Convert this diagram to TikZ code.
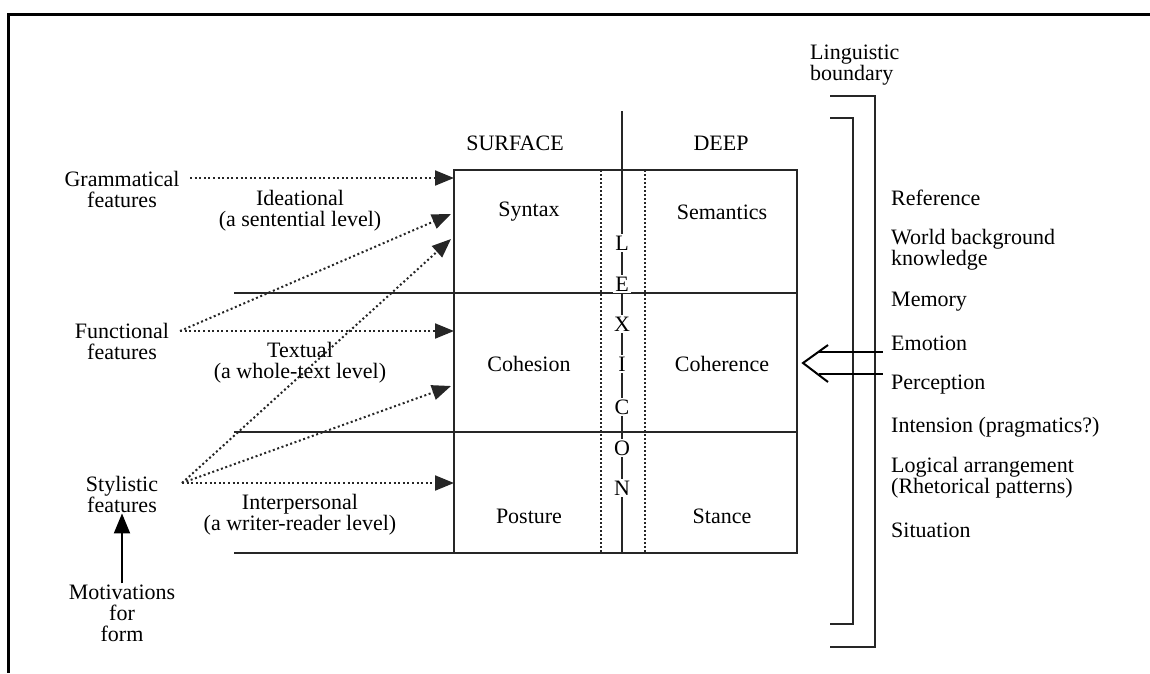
\documentclass[tikz,border=0pt]{standalone}
\usepackage{fontspec}
\setmainfont{Liberation Serif}
\usetikzlibrary{arrows.meta}

\tikzset{
  txt/.style={align=center, inner sep=1pt, font=\fontsize{22}{21}\selectfont},
  side/.style={anchor=west, align=left, inner sep=0pt, font=\fontsize{22}{21}\selectfont},
  letter/.style={fill=white, inner sep=2pt, font=\fontsize{22}{21}\selectfont},
  rule/.style={line width=2.1pt, black!85},
  dotarrow/.style={line width=2pt, black!85, dash pattern=on 2pt off 2.6pt,
    -{Triangle[length=19pt,width=15pt]}},
}

\begin{document}
\begin{tikzpicture}[x=1pt,y=-1pt]
  \useasboundingbox (0,0) rectangle (1150,673);

  % frame
  \draw[line width=3pt] (1150,14) -- (8,14) -- (8,673);

  % main box and level rules
  \coordinate (tl) at (454,170);
  \coordinate (tr) at (797,170);
  \coordinate (bl) at (454,553);
  \coordinate (br) at (797,553);
  \draw[rule] (tl) rectangle (br);
  \draw[rule] (234,293) -- (797,293);
  \draw[rule] (234,432) -- (797,432);
  \draw[rule] (234,553) -- (bl);
  \draw[rule, dash pattern=on 1.8pt off 2.2pt] (601,170) -- (601,553);
  \draw[rule, dash pattern=on 1.8pt off 2.2pt] (645,170) -- (645,553);
  \draw[rule] (622,111) -- (622,553);

  \node[letter] (l1) at (622,243) {L};
  \node[letter] (l2) at (622,284) {E};
  \node[letter] (l3) at (622,324) {X};
  \node[letter] (l4) at (622,364) {I};
  \node[letter] (l5) at (622,407) {C};
  \node[letter] (l6) at (622,448) {O};
  \node[letter] (l7) at (622,488) {N};

  \node[txt] (surface) at (515,143) {SURFACE};
  \node[txt] (deep) at (721,143) {DEEP};
  \node[txt] (syntax) at (529,212) {Syntax};
  \node[txt] (semantics) at (722,212) {Semantics};
  \node[txt] (cohesion) at (529,364) {Cohesion};
  \node[txt] (coherence) at (722,364) {Coherence};
  \node[txt] (posture) at (529,516) {Posture};
  \node[txt] (stance) at (722,516) {Stance};

  % left side
  \node[txt] (gram) at (122,189) {Grammatical\\features};
  \node[txt] (func) at (122,341) {Functional\\features};
  \node[txt] (styl) at (122,494) {Stylistic\\features};
  \node[txt] (motiv) at (122,613) {Motivations\\for\\form};
  \node[txt] (ideat) at (300,211) {Ideational\\(a sentential level)};
  \node[txt] (textu) at (300,363) {Textual\\(a whole-text level)};
  \node[txt] (inter) at (300,515) {Interpersonal\\(a writer-reader level)};

  \coordinate (gs) at (190,178);
  \coordinate (fs) at (180,331);
  \coordinate (ss) at (182,483);
  \coordinate (e1) at (454,178);
  \coordinate (e2) at (451,214);
  \coordinate (e3) at (451,239);
  \coordinate (e4) at (454,331);
  \coordinate (e5) at (451,386);
  \coordinate (e6) at (454,483);

  \draw[dotarrow] (gs) -- (e1);
  \draw[dotarrow] (fs) -- (e2);
  \draw[dotarrow] (fs) -- (e4);
  \draw[dotarrow] (ss) -- (e3);
  \draw[dotarrow] (ss) -- (e5);
  \draw[dotarrow] (ss) -- (e6);

  \draw[line width=2pt, -{Triangle[length=20pt,width=16pt]}] (motiv.north) -- (styl.south);

  % right side
  \node[side] (boundary) at (810,65) {Linguistic\\boundary};
  \draw[rule] (830,96) -- (875,96) -- (875,647) -- (830,647);
  \draw[rule] (830,118) -- (853,118) -- (853,624) -- (830,624);

  \node[side] (refer) at (891,198) {Reference};
  \node[side] (world) at (891,250) {World background\\knowledge};
  \node[side] (memory) at (891,302) {Memory};
  \node[side] (emotion) at (891,343) {Emotion};
  \node[side] (percep) at (891,385) {Perception};
  \node[side] (intens) at (891,427) {Intension (pragmatics?)};
  \node[side] (logic) at (891,478) {Logical arrangement\\(Rhetorical patterns)};
  \node[side] (situat) at (891,530) {Situation};

  % open arrow into the deep side
  \coordinate (tip) at (803,363);
  \draw[line width=2pt] (828,345) -- (tip) -- (828,382);
  \draw[line width=2pt] (819,352) -- (883,352);
  \draw[line width=2pt] (819,374) -- (883,374);

\end{tikzpicture}
\end{document}
